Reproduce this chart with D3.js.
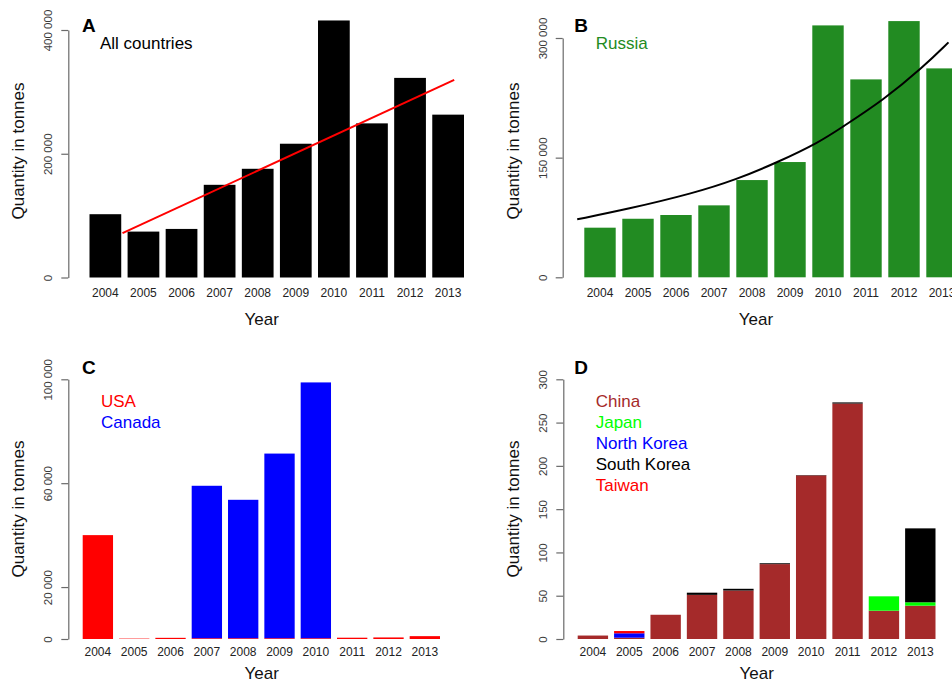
<!DOCTYPE html>
<html>
<head>
<meta charset="utf-8">
<script src="https://cdn.jsdelivr.net/npm/d3@7"></script>
<style>
  html, body { margin: 0; padding: 0; background: #fff; }
  svg { display: block; font-family: "Liberation Sans", Arial, sans-serif; }
</style>
</head>
<body>
<svg id="chart" width="952" height="681"></svg>
<script>
// ---------------- DATA ----------------
const years = ["2004","2005","2006","2007","2008","2009","2010","2011","2012","2013"];

// Panel A: all countries (tonnes)
const allCountries = [102300, 74200, 78500, 149800, 175700, 216200, 415400, 249100, 322600, 263200];
const trendYears  = [2004.45, 2013.16];
const trendValues = [71600, 319400];
const ticksA = [0, 200000, 400000];

// Panel B: Russia (tonnes)
const russia = [62200, 73400, 78100, 90200, 121900, 144500, 315800, 248100, 321200, 261900];
const curveYears  = [2003.40, 2004.70, 2006.46, 2007.60, 2008.65, 2009.79, 2010.32, 2011.46, 2012.51, 2013.17];
const curveValues = [72700, 85200, 105300, 122800, 143600, 169900, 186700, 222200, 263900, 294500];
const ticksB = [0, 150000, 300000];

// Panel C: USA and Canada (tonnes)
const usa    = [40000, 150, 450, 300, 300, 300, 300, 500, 600, 1100];
const canada = [0, 0, 0, 58700, 53300, 71100, 98500, 0, 0, 0];
const ticksC = [0, 20000, 60000, 100000];

// Panel D: Asian countries (tonnes)
const china      = [4, 1.5, 28, 51, 56, 86.5, 189, 272, 32.7, 38.5];
const japan      = [0, 0, 0, 0, 0, 0, 0, 0, 16.6, 3.9];
const northKorea = [0, 5.1, 0, 0, 0, 0, 0, 0, 0, 0];
const southKorea = [0, 0, 0, 2.5, 2, 1, 0.4, 1.3, 0, 85.4];
const taiwan     = [0, 2.6, 0, 0, 0, 0, 0, 0, 0, 0];
const ticksD = [0, 50, 100, 150, 200, 250, 300];

// ---------------- HELPERS ----------------
const svg = d3.select("#chart");
const FONT = "'Liberation Sans', Arial, sans-serif";
const fmt = d3.formatLocale({decimal: ".", thousands: " ", grouping: [3], currency: ["", ""]}).format(",d");

function panel(opt) {
  const g = svg.append("g");
  const x = d3.scaleBand().domain(years).range(opt.xRange).paddingInner(opt.pad).paddingOuter(0);
  const y = d3.scaleLinear().domain([0, opt.yMax]).range(opt.yRange);
  const xc = d3.scaleLinear().domain([2004, 2013])
      .range([x("2004") + x.bandwidth() / 2, x("2013") + x.bandwidth() / 2]);

  // y axis
  const ax = g.append("g")
    .attr("transform", `translate(${opt.axisX},0)`)
    .call(d3.axisLeft(y).tickValues(opt.ticks).tickSize(7).tickSizeOuter(0).tickFormat(fmt));
  ax.select(".domain").attr("stroke", "#6a6a6a").attr("stroke-width", 1.2);
  ax.selectAll(".tick line").attr("stroke", "#6a6a6a").attr("stroke-width", 1.2);
  ax.selectAll(".tick text")
    .attr("transform", "rotate(-90)")
    .attr("x", 0).attr("y", -20).attr("dy", null)
    .attr("text-anchor", "middle")
    .attr("dominant-baseline", "central")
    .attr("fill", "#3a3a3a")
    .style("font-family", FONT)
    .style("font-size", "11.5px");

  // x tick labels
  g.append("g").selectAll("text").data(years).join("text")
    .attr("x", d => x(d) + x.bandwidth() / 2)
    .attr("y", opt.xLabelY)
    .attr("text-anchor", "middle")
    .attr("dominant-baseline", "central")
    .attr("fill", "#222")
    .style("font-size", "12px")
    .text(d => d);

  // axis titles
  g.append("text")
    .attr("x", opt.yearX).attr("y", opt.yearY)
    .attr("text-anchor", "middle").attr("dominant-baseline", "central")
    .attr("fill", "#111").style("font-size", "17px").text("Year");
  g.append("text")
    .attr("transform", `translate(${opt.qX},${opt.qY}) rotate(-90)`)
    .attr("text-anchor", "middle").attr("dominant-baseline", "central")
    .attr("fill", "#111").style("font-size", "17px").text("Quantity in tonnes");

  // panel letter
  g.append("text")
    .attr("x", opt.letterX).attr("y", opt.letterY)
    .attr("dominant-baseline", "central")
    .attr("fill", "#000").style("font-size", "19px").style("font-weight", "bold")
    .text(opt.letter);

  return {g, x, y, xc};
}

function legend(g, items, lx, ly, step) {
  g.append("g").selectAll("text").data(items).join("text")
    .attr("x", lx).attr("y", (d, i) => ly + i * step)
    .attr("dominant-baseline", "central")
    .attr("fill", d => d.color)
    .style("font-size", "17px")
    .text(d => d.label);
}

// ---------------- PANEL A ----------------
{
  const p = panel({
    xRange: [89.5, 464], pad: 0.1667, yMax: 400000, yRange: [277.5, 30],
    axisX: 68.3, ticks: ticksA, xLabelY: 292.7, yearX: 261.7, yearY: 319.3,
    qX: 18.3, qY: 151, letter: "A", letterX: 82, letterY: 25
  });
  p.g.append("g").selectAll("rect").data(allCountries).join("rect")
    .attr("x", (d, i) => p.x(years[i]))
    .attr("width", p.x.bandwidth())
    .attr("y", d => p.y(d))
    .attr("height", d => p.y(0) - p.y(d))
    .attr("fill", "#000");
  p.g.append("path")
    .datum(trendYears.map((t, i) => [t, trendValues[i]]))
    .attr("d", d3.line().x(d => p.xc(d[0])).y(d => p.y(d[1])))
    .attr("fill", "none").attr("stroke", "#ff0000").attr("stroke-width", 2);
  legend(p.g, [{label: "All countries", color: "#000"}], 100, 43, 21.3);
}

// ---------------- PANEL B ----------------
{
  const p = panel({
    xRange: [584.3, 957.7], pad: 0.1737, yMax: 300000, yRange: [277.3, 38],
    axisX: 562.7, ticks: ticksB, xLabelY: 292.7, yearX: 756, yearY: 319.3,
    qX: 513.3, qY: 151, letter: "B", letterX: 574.3, letterY: 25
  });
  p.g.append("g").selectAll("rect").data(russia).join("rect")
    .attr("x", (d, i) => p.x(years[i]))
    .attr("width", p.x.bandwidth())
    .attr("y", d => p.y(d))
    .attr("height", d => p.y(0) - p.y(d))
    .attr("fill", "#228b22");
  p.g.append("path")
    .datum(curveYears.map((t, i) => [t, curveValues[i]]))
    .attr("d", d3.line().x(d => p.xc(d[0])).y(d => p.y(d[1])).curve(d3.curveBasis))
    .attr("fill", "none").attr("stroke", "#000").attr("stroke-width", 2);
  legend(p.g, [{label: "Russia", color: "#228b22"}], 595.7, 43, 21.3);
}

// ---------------- PANEL C ----------------
{
  const p = panel({
    xRange: [82.7, 440], pad: 0.165, yMax: 100000, yRange: [639, 379.3],
    axisX: 68.3, ticks: ticksC, xLabelY: 652.3, yearX: 261.7, yearY: 673.3,
    qX: 18.3, qY: 509, letter: "C", letterX: 82, letterY: 367.7
  });
  const rows = years.map((yr, i) => ({year: yr, USA: usa[i], Canada: canada[i]}));
  const keys = ["USA", "Canada"];
  const colors = {USA: "#ff0000", Canada: "#0000ff"};
  const stacked = d3.stack().keys(keys)(rows);
  p.g.append("g").selectAll("g").data(stacked).join("g")
    .attr("fill", d => colors[d.key])
    .selectAll("rect").data(d => d).join("rect")
    .attr("x", d => p.x(d.data.year))
    .attr("width", p.x.bandwidth())
    .attr("y", d => p.y(d[1]))
    .attr("height", d => p.y(d[0]) - p.y(d[1]));
  legend(p.g, [{label: "USA", color: "#ff0000"}, {label: "Canada", color: "#0000ff"}], 101, 401, 21.3);
}

// ---------------- PANEL D ----------------
{
  const p = panel({
    xRange: [577.7, 935.5], pad: 0.165, yMax: 300, yRange: [639, 379.3],
    axisX: 563.3, ticks: ticksD, xLabelY: 652.3, yearX: 756.7, yearY: 673.3,
    qX: 513.3, qY: 509, letter: "D", letterX: 574.3, letterY: 367.7
  });
  const keys = ["China", "Japan", "North Korea", "South Korea", "Taiwan"];
  const series = [china, japan, northKorea, southKorea, taiwan];
  const colors = ["#a52a2a", "#00ff00", "#0000ff", "#000000", "#ff0000"];
  const rows = years.map((yr, i) => {
    const r = {year: yr};
    keys.forEach((k, j) => r[k] = series[j][i]);
    return r;
  });
  const stacked = d3.stack().keys(keys)(rows);
  p.g.append("g").selectAll("g").data(stacked).join("g")
    .attr("fill", (d, i) => colors[i])
    .selectAll("rect").data(d => d).join("rect")
    .attr("x", d => p.x(d.data.year))
    .attr("width", p.x.bandwidth())
    .attr("y", d => p.y(d[1]))
    .attr("height", d => p.y(d[0]) - p.y(d[1]));
  legend(p.g, keys.map((k, i) => ({label: k, color: colors[i]})), 595.7, 401, 21.2);
}
</script>
</body>
</html>
